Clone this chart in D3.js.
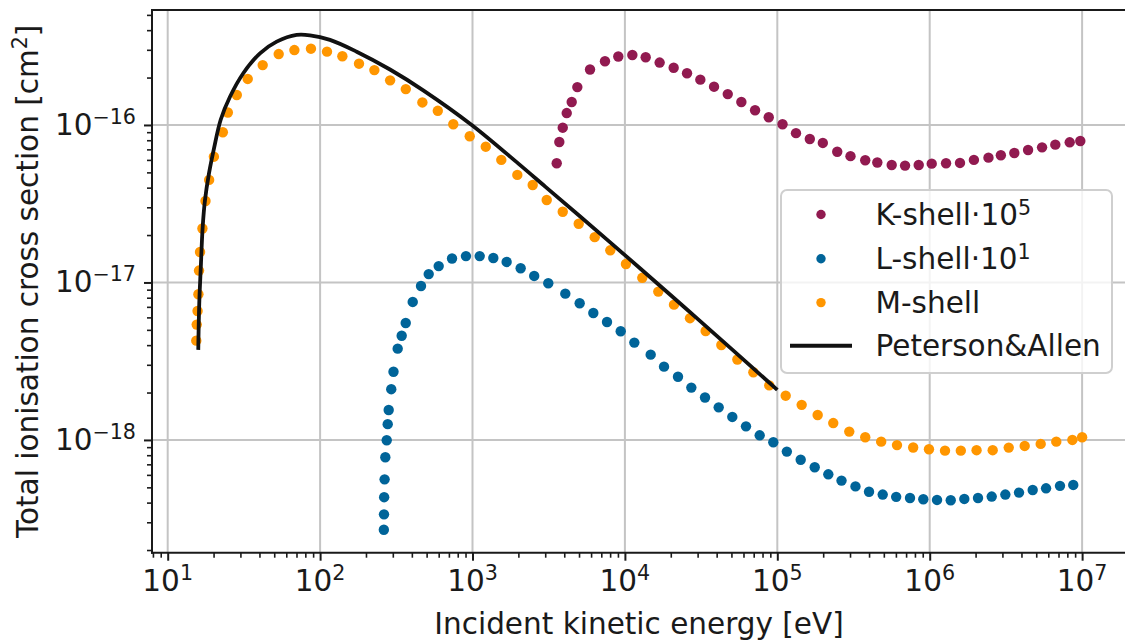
<!DOCTYPE html>
<html>
<head>
<meta charset="utf-8">
<script src="https://cdn.jsdelivr.net/npm/d3@7"></script>
<style>
  body { margin: 0; background: #fff; }
  svg { display: block; }
  text { font-family: "DejaVu Sans", sans-serif; fill: #1a1a1a; }
</style>
</head>
<body>
<svg id="chart" width="1125" height="643"></svg>
<script>
// ---- data: incident energy [eV] and ionisation cross sections [cm^2] ----
const kShellEnergy = [3569, 3712, 3909, 4152, 4477, 4874, 5904, 7400, 9050, 11190, 13690, 16900,
  20890, 25560, 31260, 38450, 47300, 58090, 71460, 87870, 108200, 132600, 163400, 198900,
  247300, 302200, 377500, 453100, 563200, 689000, 847000, 1.031e6, 1.28e6, 1.58e6, 1.95e6,
  2.43e6, 2.93e6, 3.59e6, 4.42e6, 5.46e6, 6.67e6, 8.29e6, 9.73e6];
const kShellSigma = [5.71e-22, 7.80e-22, 9.61e-22, 1.19e-21, 1.40e-21, 1.74e-21, 2.25e-21, 2.54e-21,
  2.72e-21, 2.78e-21, 2.69e-21, 2.49e-21, 2.31e-21, 2.13e-21, 1.94e-21, 1.75e-21, 1.57e-21,
  1.40e-21, 1.24e-21, 1.12e-21, 1.01e-21, 8.87e-22, 8.15e-22, 7.69e-22, 6.76e-22, 6.34e-22,
  5.97e-22, 5.78e-22, 5.57e-22, 5.52e-22, 5.57e-22, 5.68e-22, 5.71e-22, 5.74e-22, 6.00e-22,
  6.20e-22, 6.42e-22, 6.64e-22, 6.94e-22, 7.21e-22, 7.50e-22, 7.76e-22, 7.91e-22];
const kShellFactor = 1e5;

const lShellEnergy = [262.0, 262.6, 263.2, 265.0, 267.9, 273.6, 277.7, 281.9, 293, 303.1, 322.9,
  343, 364.6, 405.3, 459.3, 516, 600, 734, 906, 1115, 1370, 1675, 2070, 2540, 3142, 4064,
  5049, 6205, 7630, 9385, 11530, 14760, 18060, 22300, 27280, 33550, 41250, 50660, 62310,
  76640, 94150, 115500, 142400, 176000, 216100, 263800, 325800, 399800, 491600, 602600,
  742600, 907700, 1.117e6, 1.374e6, 1.687e6, 2.075e6, 2.552e6, 3.135e6, 3.855e6, 4.74e6,
  5.80e6, 7.16e6, 8.75e6];
const lShellSigma = [2.69e-20, 3.37e-20, 4.33e-20, 5.62e-20, 7.76e-20, 9.96e-20, 1.26e-19, 1.55e-19,
  2.10e-19, 2.71e-19, 3.80e-19, 4.59e-19, 5.53e-19, 7.52e-19, 9.50e-19, 1.13e-18, 1.27e-18,
  1.42e-18, 1.47e-18, 1.47e-18, 1.43e-18, 1.35e-18, 1.23e-18, 1.10e-18, 9.89e-19, 8.49e-19,
  7.38e-19, 6.40e-19, 5.61e-19, 4.90e-19, 4.15e-19, 3.48e-19, 2.92e-19, 2.52e-19, 2.15e-19,
  1.86e-19, 1.61e-19, 1.40e-19, 1.22e-19, 1.07e-19, 9.67e-20, 8.43e-20, 7.48e-20, 6.71e-20,
  6.05e-20, 5.52e-20, 5.07e-20, 4.69e-20, 4.50e-20, 4.35e-20, 4.28e-20, 4.20e-20, 4.16e-20,
  4.14e-20, 4.22e-20, 4.28e-20, 4.37e-20, 4.50e-20, 4.63e-20, 4.81e-20, 4.93e-20, 5.11e-20,
  5.18e-20];
const lShellFactor = 1e1;

const mShellEnergy = [15.4, 15.5, 15.7, 15.9, 16.05, 16.3, 16.9, 17.7, 18.7, 20.1, 23.0, 24.8,
  28.4, 33.5, 42.0, 53.5, 67.8, 87.1, 111, 140, 180, 227, 288, 365, 469, 592, 748, 959, 1222,
  1545, 1968, 2483, 3069, 3909, 4977, 6336, 8020, 10160, 13000, 16560, 20990, 26730, 33880,
  42920, 54690, 69660, 88560, 113500, 144500, 184000, 232900, 296600, 377600, 480400, 610000,
  779000, 989000, 1.26e6, 1.60e6, 2.03e6, 2.59e6, 3.30e6, 4.20e6, 5.35e6, 6.77e6, 8.63e6, 1.0e7];
const mShellSigma = [4.27e-18, 5.40e-18, 6.59e-18, 8.41e-18, 1.19e-17, 1.56e-17, 2.20e-17, 3.29e-17,
  4.48e-17, 6.29e-17, 8.99e-17, 1.20e-16, 1.55e-16, 1.96e-16, 2.40e-16, 2.82e-16, 2.99e-16,
  3.05e-16, 2.92e-16, 2.73e-16, 2.45e-16, 2.23e-16, 1.92e-16, 1.69e-16, 1.39e-16, 1.23e-16,
  1.01e-16, 8.48e-17, 7.28e-17, 6.00e-17, 4.82e-17, 4.16e-17, 3.34e-17, 2.81e-17, 2.36e-17,
  1.94e-17, 1.60e-17, 1.31e-17, 1.07e-17, 8.75e-18, 7.23e-18, 5.93e-18, 4.92e-18, 4.01e-18,
  3.24e-18, 2.69e-18, 2.22e-18, 1.91e-18, 1.67e-18, 1.44e-18, 1.28e-18, 1.13e-18, 1.04e-18,
  9.75e-19, 9.27e-19, 8.96e-19, 8.73e-19, 8.55e-19, 8.55e-19, 8.61e-19, 8.61e-19, 8.94e-19,
  9.16e-19, 9.44e-19, 9.75e-19, 1.00e-18, 1.04e-18];
const mShellFactor = 1;

// Peterson & Allen semi-empirical cross section
const paEnergy = [15.87, 16.11, 16.46, 16.97, 17.57, 18.66, 20.13, 22.27, 25.63, 31.33, 40.33, 51.9,
  70.2, 85.8, 116.1, 173.8, 287.5, 475, 988, 2000, 3000, 5000, 1e4, 2e4, 3e4, 5e4, 1e5];
const paSigma = [3.73e-18, 7.38e-18, 1.20e-17, 2.26e-17, 3.34e-17, 4.93e-17, 7.11e-17, 1.08e-16,
  1.51e-16, 2.13e-16, 2.85e-16, 3.38e-16, 3.73e-16, 3.71e-16, 3.47e-16, 2.92e-16, 2.25e-16,
  1.66e-16, 1.00e-16, 5.68e-17, 4.06e-17, 2.66e-17, 1.49e-17, 8.29e-18, 5.87e-18, 3.79e-18,
  2.08e-18];

const xMajorTicks = [1e1, 1e2, 1e3, 1e4, 1e5, 1e6, 1e7];
const xTickExponents = ["1", "2", "3", "4", "5", "6", "7"];
const yMajorTicks = [1e-18, 1e-17, 1e-16];
const yTickExponents = ["−18", "−17", "−16"];

const series = [
  { name: "K-shell·10", sup: "5", energy: kShellEnergy, sigma: kShellSigma, factor: kShellFactor, color: "#911a50" },
  { name: "L-shell·10", sup: "1", energy: lShellEnergy, sigma: lShellSigma, factor: lShellFactor, color: "#006499" },
  { name: "M-shell", sup: "", energy: mShellEnergy, sigma: mShellSigma, factor: mShellFactor, color: "#ff9600" }
];

// ---- layout ----
const FONT = 29.5, SUP = FONT * 0.7;
const plot = { left: 152, right: 1126, top: 10, bottom: 552.7 };
const svg = d3.select("#chart");

const x = d3.scaleLog()
  .domain([Math.pow(10, 0.897), Math.pow(10, 7.288)])
  .range([plot.left, plot.right]);
const y = d3.scaleLog()
  .domain([Math.pow(10, -18.716), Math.pow(10, -15.27)])
  .range([plot.bottom, plot.top]);

svg.append("defs").append("clipPath").attr("id", "plotclip")
  .append("rect")
  .attr("x", plot.left).attr("y", plot.top)
  .attr("width", plot.right - plot.left).attr("height", plot.bottom - plot.top);

// grid
const grid = svg.append("g").attr("stroke", "#c4c4c4").attr("stroke-width", 2);
grid.selectAll("line.gx").data(xMajorTicks).join("line")
  .attr("x1", d => x(d)).attr("x2", d => x(d))
  .attr("y1", plot.top).attr("y2", plot.bottom);
grid.selectAll("line.gy").data(yMajorTicks).join("line")
  .attr("x1", plot.left).attr("x2", plot.right)
  .attr("y1", d => y(d)).attr("y2", d => y(d));

// scatter series
const marks = svg.append("g").attr("clip-path", "url(#plotclip)");
series.forEach(s => {
  const pts = s.energy.map((e, i) => [e, s.sigma[i] * s.factor]);
  marks.append("g").attr("fill", s.color)
    .selectAll("circle").data(pts).join("circle")
    .attr("cx", d => x(d[0])).attr("cy", d => y(d[1])).attr("r", 5.2);
});

// Peterson & Allen curve
const paPts = paEnergy.map((e, i) => [e, paSigma[i]]);
marks.append("path")
  .datum(paPts)
  .attr("fill", "none").attr("stroke", "#111").attr("stroke-width", 3.8)
  .attr("stroke-linejoin", "round")
  .attr("d", d3.line().x(d => x(d[0])).y(d => y(d[1])).curve(d3.curveCatmullRom.alpha(0.5)));

// axes (ticks only; labels drawn below with superscripts)
const minorX = [];
for (let dec = 0; dec <= 7; dec++) for (let m = 2; m <= 9; m++) {
  const v = m * Math.pow(10, dec);
  if (v >= x.domain()[0] && v <= x.domain()[1]) minorX.push(v);
}
const minorY = [];
for (let dec = -19; dec <= -16; dec++) for (let m = 2; m <= 9; m++) {
  const v = m * Math.pow(10, dec);
  if (v >= y.domain()[0] && v <= y.domain()[1]) minorY.push(v);
}

function styleAxis(g) {
  g.select(".domain").remove();
  g.selectAll(".tick line").attr("stroke", "#1a1a1a").attr("stroke-width", 2);
  g.selectAll(".tick text").remove();
}
svg.append("g").attr("transform", `translate(0,${plot.bottom})`)
  .call(d3.axisBottom(x).tickValues(xMajorTicks).tickSize(8).tickFormat(() => "")).call(styleAxis);
svg.append("g").attr("transform", `translate(0,${plot.bottom})`)
  .call(d3.axisBottom(x).tickValues(minorX).tickSize(5).tickFormat(() => "")).call(styleAxis)
  .selectAll(".tick line").attr("stroke-width", 1.6);
svg.append("g").attr("transform", `translate(${plot.left},0)`)
  .call(d3.axisLeft(y).tickValues(yMajorTicks).tickSize(8).tickFormat(() => "")).call(styleAxis);
svg.append("g").attr("transform", `translate(${plot.left},0)`)
  .call(d3.axisLeft(y).tickValues(minorY).tickSize(5).tickFormat(() => "")).call(styleAxis)
  .selectAll(".tick line").attr("stroke-width", 1.6);

// spines
const spines = svg.append("g").attr("stroke", "#1a1a1a").attr("stroke-width", 2).attr("stroke-linecap", "square");
spines.append("line").attr("x1", plot.left).attr("x2", plot.left).attr("y1", plot.top).attr("y2", plot.bottom);
spines.append("line").attr("x1", plot.left).attr("x2", plot.right).attr("y1", plot.bottom).attr("y2", plot.bottom);
spines.append("line").attr("x1", plot.left).attr("x2", plot.right).attr("y1", plot.top).attr("y2", plot.top);
spines.append("line").attr("x1", plot.right).attr("x2", plot.right).attr("y1", plot.top).attr("y2", plot.bottom);

// power-of-ten tick labels
function powerLabel(sel, exp, raise) {
  sel.append("tspan").text("10");
  sel.append("tspan").attr("font-size", SUP).attr("dy", -raise).text(exp);
}
xMajorTicks.forEach((v, i) => {
  svg.append("text").attr("x", x(v)).attr("y", 591).attr("text-anchor", "middle")
    .attr("font-size", FONT).call(powerLabel, xTickExponents[i], 11);
});
yMajorTicks.forEach((v, i) => {
  svg.append("text").attr("x", 136).attr("y", y(v) + 10).attr("text-anchor", "end")
    .attr("font-size", FONT).call(powerLabel, yTickExponents[i], 11);
});

// axis titles
svg.append("text").attr("x", (plot.left + plot.right) / 2).attr("y", 634)
  .attr("text-anchor", "middle").attr("font-size", FONT)
  .text("Incident kinetic energy [eV]");
const yl = svg.append("text")
  .attr("transform", `translate(38,${(plot.top + plot.bottom) / 2}) rotate(-90)`)
  .attr("text-anchor", "middle").attr("font-size", FONT);
yl.append("tspan").text("Total ionisation cross section [cm");
yl.append("tspan").attr("font-size", SUP).attr("dy", -11).text("2");
yl.append("tspan").attr("dy", 11).text("]");

// legend
const lg = svg.append("g");
lg.append("rect").attr("x", 781).attr("y", 190).attr("width", 331).attr("height", 183)
  .attr("rx", 6).attr("fill", "#fff").attr("fill-opacity", 0.8)
  .attr("stroke", "#cfcfcf").attr("stroke-width", 2);
const rowY = [214.5, 258.8, 302.6, 345.8];
series.forEach((s, i) => {
  lg.append("circle").attr("cx", 821).attr("cy", rowY[i]).attr("r", 4.7).attr("fill", s.color);
  const t = lg.append("text").attr("x", 875.5).attr("y", rowY[i] + 10.6).attr("font-size", FONT);
  t.append("tspan").text(s.name);
  if (s.sup) t.append("tspan").attr("font-size", SUP).attr("dy", -10).text(s.sup);
});
lg.append("line").attr("x1", 790).attr("x2", 852).attr("y1", rowY[3]).attr("y2", rowY[3])
  .attr("stroke", "#111").attr("stroke-width", 4);
lg.append("text").attr("x", 875.5).attr("y", rowY[3] + 10.6).attr("font-size", FONT).text("Peterson&Allen");
</script>
</body>
</html>
